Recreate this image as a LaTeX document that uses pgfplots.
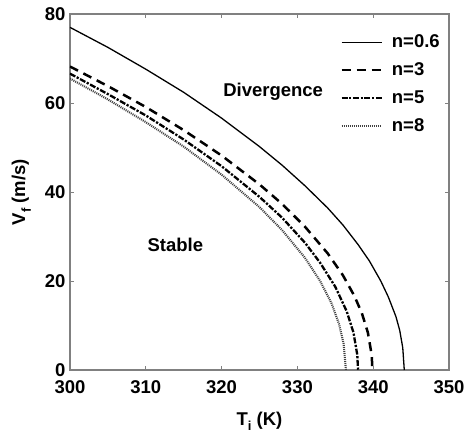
\documentclass[border=0pt]{standalone}
\usepackage{pgfplots}
\pgfplotsset{compat=1.18}
\usepackage{fontspec}
\setmainfont{Liberation Sans}
\pgfplotstableread{
T V
300 77.0
305 72.5
310 67.6
315 62.4
320 56.6
325 50.2
328 46.0
331 41.4
334 36.4
336 32.6
338 28.2
339.5 24.5
341 20.0
342 16.4
343 12.0
343.5 8.9
343.9 5.0
344.1 0
}\nA
\pgfplotstableread{
T V
300 68.2
305 63.8
310 59.1
315 53.9
320 48.2
325 41.7
328 37.3
331 32.2
334 26.2
336 21.3
337.5 16.7
338.5 12.8
339.3 8.4
339.8 3.4
339.9 0
}\nB
\pgfplotstableread{
T V
300 66.6
305 62.0
310 57.2
315 51.8
320 45.8
325 38.9
328 34.2
331 28.6
333 24.1
335 18.7
336.5 13.2
337.4 8.4
337.9 3.4
338.0 0
}\nC
\pgfplotstableread{
T V
300 65.5
305 60.8
310 55.7
315 50.2
320 43.9
325 36.6
328 31.4
331 25.2
333 20.0
334.5 15.0
335.5 10.3
336.1 5.9
336.4 0
}\nD
\newcommand{\ff}{\fontsize{18.5}{21}\selectfont\bfseries}
\begin{document}
\begin{tikzpicture}
\begin{axis}[
  scale only axis, width=379pt, height=356pt,
  xmin=300, xmax=350, ymin=0, ymax=80,
  xtick={300,310,320,330,340,350}, ytick={0,20,40,60,80},
  axis line style={draw=black!50, line width=1.5pt},
  tick style={draw=black!50, line width=0.9pt},
  major tick length=4pt, tick align=inside,
  ticklabel style={font=\ff},
  /pgf/number format/assume math mode=true,
  xticklabel style={yshift=-7pt},
  yticklabel style={xshift=-1pt},
  xlabel={T\raisebox{-0.6ex}{\fontsize{13}{13}\selectfont i} (K)},
  ylabel={V\raisebox{-0.6ex}{\fontsize{13}{13}\selectfont f} (m/s)},
  label style={font=\ff},
  xlabel style={at={(axis description cs:0.5,-0.1545)}, anchor=base},
  ylabel style={at={(axis description cs:-0.1187,0.5)}, anchor=base},
  legend style={draw=none, fill=none, at={(0.713,0.947)}, anchor=north west,
    font=\ff, row sep=9.5pt, inner sep=0pt,
    /tikz/every odd column/.append style={column sep=7pt}},
  legend cell align=left,
  legend image code/.code={\draw[#1] (0pt,0pt) -- (40pt,0pt);},
]
\addplot[black, line width=1.3pt, no markers] table[x=T,y=V] {\nA};
\addlegendentry{n=0.6}
\addplot[black, line width=2.5pt, dash pattern=on 9pt off 6pt, no markers] table[x=T,y=V] {\nB};
\addlegendentry{n=3}
\addplot[black, line width=2.3pt, dash pattern=on 6pt off 1.6pt on 2.2pt off 1.6pt, no markers] table[x=T,y=V] {\nC};
\addlegendentry{n=5}
\addplot[black!75, line width=2.1pt, dash pattern=on 1pt off 1pt, no markers] table[x=T,y=V] {\nD};
\addlegendentry{n=8}
\node[font=\ff, anchor=base] at (axis cs:326.8,61.4) {Divergence};
\node[font=\ff, anchor=base] at (axis cs:313.9,26.7) {Stable};
\end{axis}
\pgfresetboundingbox
\path (-70pt,-67pt) rectangle (396pt,370pt);
\end{tikzpicture}
\end{document}
